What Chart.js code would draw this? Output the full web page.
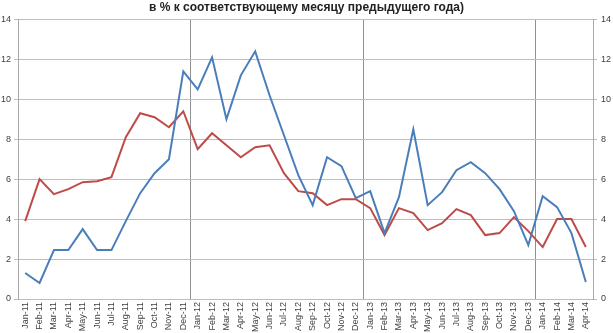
<!DOCTYPE html>
<html>
<head>
<meta charset="utf-8">
<script src="https://cdn.jsdelivr.net/npm/chart.js@4/dist/chart.umd.min.js"></script>
<style>
  html, body { margin: 0; padding: 0; background: #fff; }
  #wrap { width: 613px; height: 333px; }
</style>
</head>
<body>
<div id="wrap"><canvas id="grafico"></canvas></div>
<script>
const meses = ["Jan", "Feb", "Mar", "Apr", "May", "Jun", "Jul", "Aug", "Sep", "Oct", "Nov", "Dec"];
const anios = ["11", "12", "13", "14"];
const etiquetas = [];
anios.forEach(a => meses.forEach(m => etiquetas.push(m + "-" + a)));
etiquetas.length = 40; // Jan-11 .. Apr-14

const serieAzul = [
  1.3, 0.8, 2.45, 2.45, 3.5, 2.45, 2.45, 3.9, 5.3, 6.3, 7.0, 11.4,
  10.5, 12.1, 9.0, 11.2, 12.4, 10.2, 8.2, 6.2, 4.7, 7.1, 6.65, 5.05,
  5.4, 3.3, 5.1, 8.5, 4.7, 5.35, 6.45, 6.85, 6.3, 5.5, 4.4, 2.7,
  5.15, 4.6, 3.3, 0.85
];
const serieRoja = [
  3.9, 6.0, 5.25, 5.5, 5.85, 5.9, 6.1, 8.1, 9.3, 9.1, 8.6, 9.4,
  7.5, 8.3, 7.7, 7.1, 7.6, 7.7, 6.3, 5.4, 5.3, 4.7, 5.0, 5.0,
  4.55, 3.2, 4.55, 4.3, 3.45, 3.8, 4.5, 4.2, 3.2, 3.3, 4.1, 3.4,
  2.6, 4.0, 4.0, 2.6
];
const titulo = "в % к соответствующему месяцу предыдущего года)";

Chart.defaults.font.family = "'Liberation Sans', Arial, sans-serif";
Chart.defaults.color = "#404040";

const ctx = document.getElementById("grafico").getContext("2d");
new Chart(ctx, {
  type: "line",
  data: {
    labels: etiquetas,
    datasets: [
      { label: "azul", data: serieAzul, borderColor: "#4a7ebb", borderWidth: 2, pointRadius: 0, tension: 0 },
      { label: "roja", data: serieRoja, borderColor: "#be4b48", borderWidth: 2, pointRadius: 0, tension: 0 }
    ]
  },
  options: {
    responsive: true,
    maintainAspectRatio: false,
    animation: false,
    layout: { padding: 0 },
    plugins: {
      legend: { display: false },
      tooltip: { enabled: false },
      title: {
        display: true,
        text: titulo,
        color: "#222",
        font: { size: 12, weight: "bold" },
        padding: { top: 0, bottom: 5 }
      }
    },
    scales: {
      x: {
        offset: true,
        grid: {
          offset: true,
          drawTicks: false,
          color: c => (c.index > 0 && etiquetas[c.index] && etiquetas[c.index].startsWith("Jan")) ? "#909090" : "rgba(0,0,0,0)"
        },
        border: { display: false },
        ticks: { autoSkip: false, minRotation: 90, maxRotation: 90, padding: 3, font: { size: 9 } },
        afterFit: s => { s.height = 34; }
      },
      y: {
        min: 0, max: 14,
        ticks: { stepSize: 2, padding: 3, font: { size: 9 } },
        grid: { color: "#bdbdbd", tickLength: 4 },
        border: { display: true, color: "#a8a8a8" },
        afterFit: s => { s.width = 18; }
      },
      y2: {
        position: "right",
        min: 0, max: 14,
        ticks: { stepSize: 2, padding: 4, font: { size: 9 } },
        grid: { drawOnChartArea: false, color: "#bdbdbd", tickLength: 4 },
        border: { display: true, color: "#a8a8a8" },
        afterFit: s => { s.width = 20; }
      }
    }
  }
});
</script>
</body>
</html>
